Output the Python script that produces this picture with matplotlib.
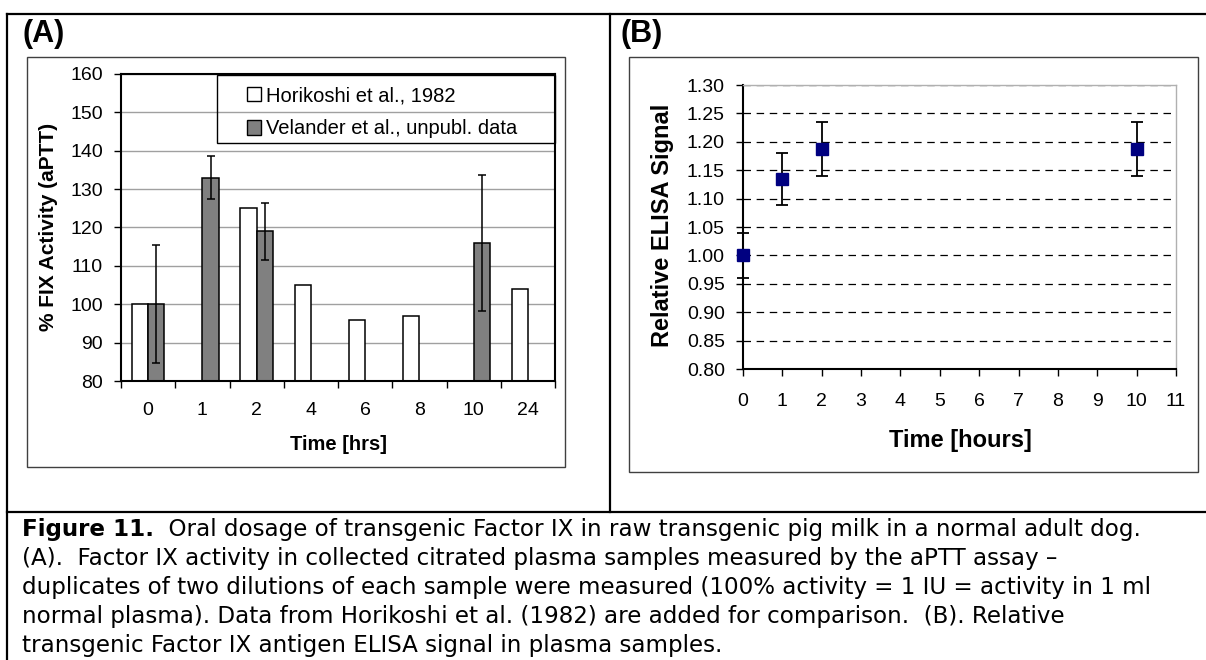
import numpy as np
import matplotlib
matplotlib.use("Agg")
import matplotlib.pyplot as plt
from matplotlib.lines import Line2D
from matplotlib.patches import Patch, Rectangle

# panel A: aPTT activity per time point (two data sources)
times_a = ['0', '1', '2', '4', '6', '8', '10', '24']
horikoshi = [100, np.nan, 125, 105, 96, 97, np.nan, 104]
velander = [100, 133, 119, np.nan, np.nan, np.nan, 116, np.nan]
velander_err = [15.4, 5.6, 7.4, np.nan, np.nan, np.nan, 17.8, np.nan]
legend_labels = ['Horikoshi et al., 1982', 'Velander et al., unpubl. data']

# panel B: relative ELISA signal
times_b = [0, 1, 2, 10]
elisa = [1.00, 1.135, 1.187, 1.187]
elisa_err = [0.040, 0.046, 0.047, 0.047]

caption = [
    "  Oral dosage of transgenic Factor IX in raw transgenic pig milk in a normal adult dog.",
    "(A).  Factor IX activity in collected citrated plasma samples measured by the aPTT assay \u2013",
    "duplicates of two dilutions of each sample were measured (100% activity = 1 IU = activity in 1 ml",
    "normal plasma). Data from Horikoshi et al. (1982) are added for comparison.  (B). Relative",
    "transgenic Factor IX antigen ELISA signal in plasma samples.",
]

plt.rcParams['font.family'] = ['Liberation Sans', 'DejaVu Sans']

W, H = 1206, 660
fig = plt.figure(figsize=(W / 100, H / 100), dpi=100)


def rect(x0, y0, x1, y1):
    return [x0 / W, 1 - y1 / H, (x1 - x0) / W, (y1 - y0) / H]


def fx(x):
    return x / W


def fy(y):
    return 1 - y / H


# frame lines of the figure table
for xs, ys in [((7, W), (14, 14)), ((7, 7), (14, H)), ((7, W), (512, 512)), ((610, 610), (14, 512))]:
    fig.add_artist(Line2D([fx(v) for v in xs], [fy(v) for v in ys], color='black', lw=1.6,
                          transform=fig.transFigure))

# chart boxes
for x0, y0, x1, y1 in [(27, 57, 565, 467), (629, 57, 1198, 472)]:
    fig.add_artist(Rectangle((fx(x0), fy(y1)), (x1 - x0) / W, (y1 - y0) / H, fill=False,
                             edgecolor='#404040', lw=1, transform=fig.transFigure))

fig.text(fx(22), fy(34), '(A)', fontsize=22, fontweight='bold', va='center', ha='left')
fig.text(fx(621), fy(34), '(B)', fontsize=22, fontweight='bold', va='center', ha='left')

# ---- panel A
ax_a = fig.add_axes(rect(121, 74, 555, 381))
x = np.arange(len(times_a))
h = np.array(horikoshi)
v = np.array(velander)
ve = np.array(velander_err)
mh = ~np.isnan(h)
mv = ~np.isnan(v)
ax_a.bar(x[mh] - 0.15, h[mh], 0.3, color='white', edgecolor='black', lw=1.1, zorder=2)
ax_a.bar(x[mv] + 0.15, v[mv], 0.3, color='#808080', edgecolor='black', lw=1.1, zorder=2)
ax_a.errorbar(x[mv] + 0.15, v[mv], yerr=ve[mv], fmt='none', ecolor='black', elinewidth=1.1,
              capsize=3.2, capthick=1.1, zorder=3)
ax_a.set_ylim(80, 160)
ax_a.set_xlim(-0.5, len(times_a) - 0.5)
ax_a.set_yticks(np.arange(80, 161, 10))
ax_a.yaxis.grid(True, color='#a0a0a0', lw=1)
ax_a.set_axisbelow(True)
ax_a.set_xticks(x, times_a)
ax_a.set_xticks(np.arange(-0.5, len(times_a), 1), minor=True)
ax_a.tick_params(axis='x', which='major', length=0, pad=15, labelsize=14)
ax_a.tick_params(axis='x', which='minor', length=5, width=1, direction='out')
ax_a.tick_params(axis='y', length=5, width=1, direction='out', pad=8, labelsize=14)
for s in ax_a.spines.values():
    s.set_linewidth(1.5)
    s.set_color('black')

fig.add_artist(Rectangle((fx(217), fy(143)), (555 - 217) / W, (143 - 75) / H, fill=False,
                         edgecolor='black', lw=1, transform=fig.transFigure, zorder=5))
handles = [Patch(facecolor='white', edgecolor='black', lw=1),
           Patch(facecolor='#808080', edgecolor='black', lw=1)]
fig.legend(handles, legend_labels, loc='upper left', bbox_to_anchor=(fx(247), fy(86)),
           frameon=False, fontsize=14.5, handlelength=0.7, handleheight=0.7, handletextpad=0.25,
           labelspacing=0.72, borderpad=0, borderaxespad=0)

fig.text(fx(49), fy(227), '% FIX Activity (aPTT)', rotation=90, fontsize=15, fontweight='bold',
         ha='center', va='center')
fig.text(fx(338), fy(445), 'Time [hrs]', fontsize=14.5, fontweight='bold', ha='center', va='center')

# ---- panel B
ax_b = fig.add_axes(rect(743, 85, 1176, 369))
ax_b.errorbar(times_b, elisa, yerr=elisa_err, fmt='s', color='#000080', ms=8, mec='#000080',
              ecolor='black', elinewidth=1.3, capsize=4, capthick=1.3, clip_on=False, zorder=4)
ax_b.set_xlim(0, 11)
ax_b.set_ylim(0.80, 1.30)
ax_b.set_xticks(np.arange(0, 12, 1))
ax_b.set_yticks(np.arange(0.80, 1.301, 0.05))
ax_b.yaxis.set_major_formatter(matplotlib.ticker.FormatStrFormatter('%.2f'))
ax_b.yaxis.grid(True, color='black', lw=0.9, linestyle=(0, (6, 4.5)))
ax_b.set_axisbelow(True)
ax_b.tick_params(axis='x', length=5, width=1, direction='out', pad=12, labelsize=14)
ax_b.tick_params(axis='y', length=5, width=1, direction='out', pad=8, labelsize=14)
for name, s in ax_b.spines.items():
    if name in ('left', 'bottom'):
        s.set_linewidth(1.5)
        s.set_color('black')
    else:
        s.set_linewidth(1)
        s.set_color('#b0b0b0')

fig.text(fx(662), fy(225), 'Relative ELISA Signal', rotation=90, fontsize=17, fontweight='bold',
         ha='center', va='center')
fig.text(fx(960), fy(440), 'Time [hours]', fontsize=17, fontweight='bold', ha='center', va='center')

# ---- caption (wider face, the source caption is set wide)
cap_font = ['DejaVu Sans']
cap_size = 16.6
baselines = [536, 565, 594, 623, 652]
renderer = fig.canvas.get_renderer()
t = fig.text(fx(22), fy(baselines[0]), 'Figure 11.', fontsize=cap_size, fontweight='bold',
             family=cap_font, ha='left', va='baseline')
x_end = t.get_window_extent(renderer).x1 / W
fig.text(x_end, fy(baselines[0]), caption[0], fontsize=cap_size, family=cap_font,
         ha='left', va='baseline')
for line, yb in zip(caption[1:], baselines[1:]):
    fig.text(fx(22), fy(yb), line, fontsize=cap_size, family=cap_font, ha='left', va='baseline')

fig.savefig('out.png', dpi=100)
